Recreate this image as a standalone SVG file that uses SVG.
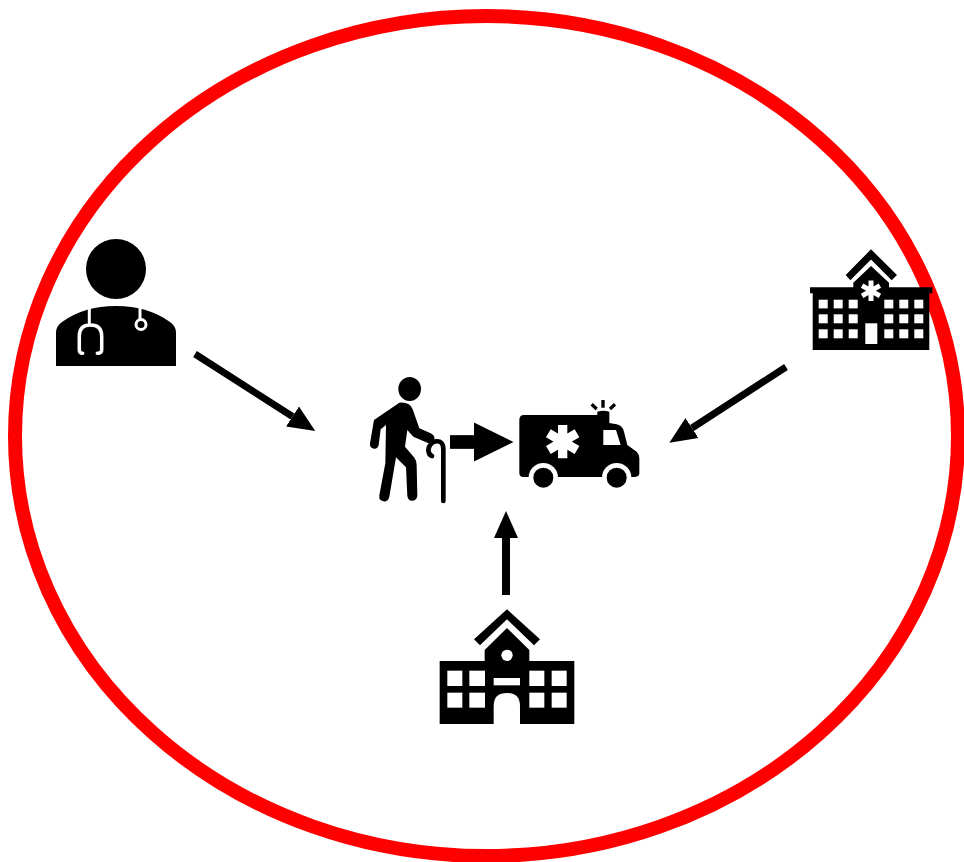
<svg xmlns="http://www.w3.org/2000/svg" width="964" height="862" viewBox="0 0 964 862">
<style>
.k{fill:#000}.w{fill:#fff}.ws{fill:none;stroke:#fff;stroke-linecap:round}
.c{fill:none;stroke:#000}
</style>
<defs>
<marker id="h1" markerUnits="userSpaceOnUse" markerWidth="28" markerHeight="26" refX="0" refY="13" orient="auto"><path d="M0 1L27 13L0 25Z"/></marker>
<marker id="h2" markerUnits="userSpaceOnUse" markerWidth="40" markerHeight="40" refX="0" refY="20" orient="auto"><path d="M0 .5L39.500 20L0 39.500Z"/></marker>
</defs>
<rect width="964" height="862" fill="#fff"/>
<ellipse id="boundary" cx="486.500" cy="436" rx="471.500" ry="420" fill="none" stroke="#f00" stroke-width="14"/>
<g id="connectors">
<line class="c" stroke-width="7" x1="195" y1="354" x2="292.500" y2="416.500" marker-end="url(#h1)"/>
<line class="c" stroke-width="7" x1="786" y1="367" x2="692" y2="428" marker-end="url(#h1)"/>
<line class="c" stroke-width="8" x1="506" y1="595" x2="506" y2="538" marker-end="url(#h1)"/>
<line class="c" stroke-width="13.700" x1="450" y1="442" x2="474" y2="442" marker-end="url(#h2)"/>
</g>
<g id="doctor">
<circle class="k" cx="116" cy="269" r="30"/>
<path class="k" d="M56 366V333Q56 326 62 322Q84 306 116 306Q148 306 170 322Q176 326 176 333V366Z"/>
<path class="ws" stroke-width="3" d="M89.300 308V323"/>
<path class="ws" stroke-width="3.500" d="M82.700 353.300Q79.300 353.300 79.300 350V336Q79.300 325 90.500 325Q101.700 325 101.700 336V350Q101.700 353.300 97.300 353.300"/>
<path class="ws" stroke-width="3" d="M140 308V319"/>
<circle cx="141" cy="324.500" r="5" fill="none" stroke="#fff" stroke-width="3"/>
</g>
<g id="hospital">
<path class="k" d="M871 249.300L897 275L891.700 280.300L871 259.500L850.300 280.300L845.700 275Z"/>
<path class="k" d="M812.700 293.300H810V287.300H853.300V282.700L871 266L889 282.700V287.300H932.300V293.300H929.300V350H812.700Z"/>
<g class="w">
<rect x="818.700" y="299.700" width="9" height="8.700"/><rect x="833.700" y="299.700" width="9" height="8.700"/><rect x="848.700" y="299.700" width="9" height="8.700"/><rect x="884.300" y="299.700" width="9" height="8.700"/><rect x="899.300" y="299.700" width="9" height="8.700"/><rect x="914.300" y="299.700" width="9" height="8.700"/>
<rect x="818.700" y="314.300" width="9" height="9"/><rect x="833.700" y="314.300" width="9" height="9"/><rect x="848.700" y="314.300" width="9" height="9"/><rect x="884.300" y="314.300" width="9" height="9"/><rect x="899.300" y="314.300" width="9" height="9"/><rect x="914.300" y="314.300" width="9" height="9"/>
<rect x="818.700" y="329.300" width="9" height="9"/><rect x="833.700" y="329.300" width="9" height="9"/><rect x="848.700" y="329.300" width="9" height="9"/><rect x="884.300" y="329.300" width="9" height="9"/><rect x="899.300" y="329.300" width="9" height="9"/><rect x="914.300" y="329.300" width="9" height="9"/>
<rect x="865.300" y="323.300" width="12" height="20.700"/>
</g>
<path fill="none" stroke="#fff" stroke-width="5" d="M871 280.500V301M862.100 285.600L879.900 295.800M862.100 295.800L879.900 285.600"/>
</g>
<g id="elder" transform="translate(360 370) scale(.33333)">
<ellipse class="k" cx="149" cy="57" rx="34" ry="36"/>
<path class="k" d="M118 98Q150 95 158 118L178 175L212 190Q228 198 222 212Q216 224 202 218L160 200L142 180L135 230L162 262Q170 272 170 285L172 378Q170 392 156 392Q144 392 142 378L138 292L108 262L88 380Q84 396 70 394Q56 392 58 376L76 280L78 165L62 178L56 225Q52 238 42 236Q28 234 30 220L42 150Z"/>
<path fill="none" stroke="#000" stroke-width="14" stroke-linecap="round" d="M250 393V238Q250 212 228 214Q208 218 205 240Q206 255 216 258"/>
</g>
<g id="ambulance" transform="translate(510 395) scale(.33333)">
<path class="k" d="M28 75Q28 60 42 60H262V50Q280 44 298 50V84L320 88Q338 92 342 110L352 150L380 170Q388 178 388 190V235Q388 245 375 246H40Q28 246 28 235Z"/>
<circle class="w" cx="100" cy="248" r="44"/><circle class="w" cx="320" cy="248" r="44"/>
<circle class="k" cx="100" cy="248" r="30"/><circle class="k" cx="320" cy="248" r="30"/>
<path class="w" d="M280 105H318L332 150H280Z"/>
<path fill="none" stroke="#fff" stroke-width="28" d="M158 90V190M115 115L201 165M115 165L201 115"/>
<path fill="none" stroke="#000" stroke-width="10" d="M279 15V38M245 28L260 42M315 28L300 42"/>
</g>
<g id="school" transform="translate(430 600) scale(.33333)">
<path class="k" d="M231 28L330 118L312 136L231 58L150 136L132 118Z"/>
<path class="k" d="M29 372V183H164V150L231 84L298 150V183H433V372Z"/>
<circle class="w" cx="231" cy="166" r="17"/>
<g class="w">
<rect x="52" y="212" width="45" height="46"/><rect x="118" y="212" width="47" height="46"/><rect x="298" y="212" width="45" height="46"/><rect x="365" y="212" width="45" height="46"/>
<rect x="52" y="278" width="45" height="45"/><rect x="118" y="278" width="47" height="45"/><rect x="298" y="278" width="45" height="45"/><rect x="365" y="278" width="45" height="45"/>
<rect x="191" y="234" width="79" height="22"/>
<path d="M191 372V318Q191 279 231 279Q270 279 270 318V372Z"/>
</g>
</g>
</svg>
